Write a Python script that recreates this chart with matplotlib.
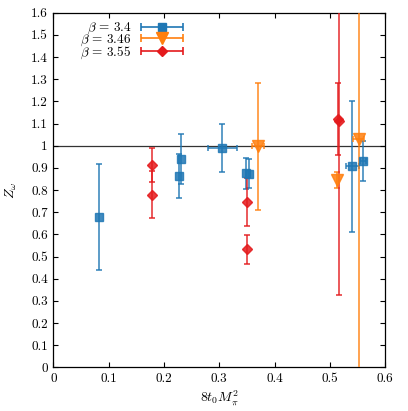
import matplotlib
matplotlib.use('Agg')
import matplotlib.pyplot as plt
from matplotlib.legend_handler import HandlerErrorbar
from matplotlib.ticker import FuncFormatter
import numpy as np

plt.rcParams['font.family'] = 'serif'
plt.rcParams['font.serif'] = ['cmr10', 'DejaVu Serif']
plt.rcParams['mathtext.fontset'] = 'cm'
plt.rcParams['axes.unicode_minus'] = False

# beta = 3.4
x34 = np.array([0.0826, 0.228, 0.230, 0.3055, 0.348, 0.353, 0.5404, 0.560])
y34 = np.array([0.679, 0.865, 0.939, 0.990, 0.877, 0.873, 0.907, 0.930])
dy34 = np.array([0.24, 0.099, 0.112, 0.108, 0.07, 0.065, 0.297, 0.09])
dx34 = np.array([0, 0, 0, 0.026, 0, 0, 0.012, 0.005])

# beta = 3.46
x346 = np.array([0.3705, 0.512, 0.552])
y346 = np.array([0.997, 0.844, 1.032])
dy346 = np.array([0.285, 0.036, 1.3])
dx346 = np.array([0.011, 0, 0.01])

# beta = 3.55
x355 = np.array([0.179, 0.179, 0.3495, 0.351, 0.5155, 0.517])
y355 = np.array([0.780, 0.912, 0.532, 0.746, 1.12, 1.112])
dy355 = np.array([0.105, 0.077, 0.065, 0.11, 0.163, 0.785])
dx355 = np.zeros(6)

labels = [r'$\beta\,=\,3.4$', r'$\beta\,=\,3.46$', r'$\beta\,=\,3.55$']
colors = ['#1f77b4', '#ff7f0e', '#e41a1c']
markers = ['s', 'v', 'D']
msizes = [6, 9, 5.5]

fig = plt.figure(figsize=(4.08, 4.11), dpi=100)
ax = fig.add_axes([0.131, 0.106, 0.813, 0.863])

ax.axhline(1.0, color='#333333', lw=0.9, zorder=1)

handles = []
series = [(x34, y34, dx34, dy34), (x346, y346, dx346, dy346), (x355, y355, dx355, dy355)]
for (x, y, dx, dy), c, m, ms, lab in zip(series, colors, markers, msizes, labels):
    ax.errorbar(x, y, yerr=dy, fmt=m, color=c, ms=ms, ecolor=c, elinewidth=1.2,
                capsize=2.5, capthick=1.2, alpha=0.85, zorder=3)
    sel = dx > 0
    if sel.any():
        ax.errorbar(x[sel], y[sel], xerr=dx[sel], fmt='none', ecolor=c, elinewidth=1.2,
                    capsize=2.5, capthick=1.2, alpha=0.85, zorder=3)
    # legend proxy (nan, not drawn) with a horizontal bar, like the original
    h = ax.errorbar([np.nan], [np.nan], xerr=[1.0], fmt=m, color=c, ms=ms, ecolor=c,
                    elinewidth=1.2, capsize=3, capthick=1.2, label=lab)
    handles.append(h)

ax.set_xlim(0, 0.6)
ax.set_ylim(0, 1.6)
ax.set_xticks(np.arange(0, 0.61, 0.1))
ax.set_yticks(np.arange(0, 1.61, 0.1))
fmt = FuncFormatter(lambda v, p: '%g' % round(v, 2))
ax.xaxis.set_major_formatter(fmt)
ax.yaxis.set_major_formatter(fmt)
ax.tick_params(direction='in', length=3.6, width=0.8, top=True, right=True,
               labelsize=9.5, pad=4)
for s in ax.spines.values():
    s.set_linewidth(0.9)

ax.set_xlabel(r'$8t_0M_\pi^2$', fontsize=10, labelpad=2)
ax.set_ylabel(r'$Z_\omega$', fontsize=10, labelpad=9)

leg = ax.legend(handles=handles, loc='upper right', bbox_to_anchor=(0.41, 0.995),
                markerfirst=False, frameon=False, fontsize=9.5, labelspacing=-0.28,
                handlelength=3.2, handletextpad=0.7, borderpad=0,
                handler_map={type(handles[0]): HandlerErrorbar(xerr_size=1.6)})

fig.savefig('out.png', dpi=100)
